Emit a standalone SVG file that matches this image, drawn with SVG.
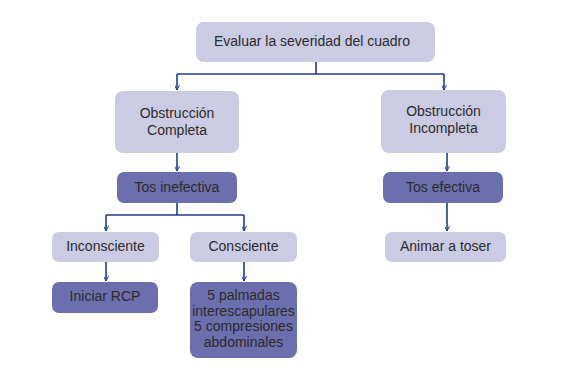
<svg xmlns="http://www.w3.org/2000/svg" width="568" height="372" viewBox="0 0 568 372">
<style>
.l{fill:#cbcbe3}
.d{fill:#6b6fad}
text{font-family:"Liberation Sans",Arial,sans-serif;font-size:14px;fill:#2b2b2b;text-anchor:middle}
.c{fill:none;stroke:#1f3c92;stroke-width:1.6}
</style>
<defs>
<marker id="a" viewBox="0 0 10 10" refX="10" refY="5" markerWidth="5" markerHeight="5" orient="auto" markerUnits="userSpaceOnUse">
<path d="M0,0 L10,5 L0,10" fill="none" stroke="#1f3c92" stroke-width="2"/>
</marker>
</defs>
<rect width="568" height="372" fill="#fff"/>
<g id="connectors">
<path class="c" d="M316,62 V74 M177,74 H444"/>
<path class="c" d="M177,74 V90" marker-end="url(#a)"/>
<path class="c" d="M444,74 V90" marker-end="url(#a)"/>
<path class="c" d="M177,153 V171" marker-end="url(#a)"/>
<path class="c" d="M447,153 V171" marker-end="url(#a)"/>
<path class="c" d="M177,203 V215 M106,215 H244"/>
<path class="c" d="M106,215 V231" marker-end="url(#a)"/>
<path class="c" d="M244,215 V231" marker-end="url(#a)"/>
<path class="c" d="M106,262 V281" marker-end="url(#a)"/>
<path class="c" d="M244,262 V281" marker-end="url(#a)"/>
<path class="c" d="M447,203 V231" marker-end="url(#a)"/>
</g>
<g id="evaluar"><rect class="l" x="196" y="22" width="239" height="40" rx="8"/><text x="312" y="46">Evaluar la severidad del cuadro</text></g>
<g id="completa"><rect class="l" x="115" y="91" width="124" height="62" rx="8"/><text x="177" y="118">Obstrucción</text><text x="177" y="135">Completa</text></g>
<g id="incompleta"><rect class="l" x="381" y="90" width="125" height="63" rx="8"/><text x="443.5" y="116">Obstrucción</text><text x="443.5" y="133">Incompleta</text></g>
<g id="inefectiva"><rect class="d" x="117" y="172" width="120" height="31" rx="7"/><text x="177" y="192">Tos inefectiva</text></g>
<g id="efectiva"><rect class="d" x="383" y="172" width="120" height="31" rx="7"/><text x="443" y="192">Tos efectiva</text></g>
<g id="inconsciente"><rect class="l" x="52" y="232" width="107" height="30" rx="7"/><text x="105.5" y="251">Inconsciente</text></g>
<g id="consciente"><rect class="l" x="190" y="232" width="107" height="30" rx="7"/><text x="243.5" y="251">Consciente</text></g>
<g id="animar"><rect class="l" x="385" y="232" width="121" height="30" rx="7"/><text x="445.5" y="251">Animar a toser</text></g>
<g id="rcp"><rect class="d" x="52" y="282" width="106" height="31" rx="7"/><text x="105" y="301">Iniciar RCP</text></g>
<g id="palmadas"><rect class="d" x="190" y="282" width="107" height="76" rx="8"/><text x="243.5" y="300">5 palmadas</text><text x="243.5" y="315.5">interescapulares</text><text x="243.5" y="331">5 compresiones</text><text x="243.5" y="346.5">abdominales</text></g>
</svg>
